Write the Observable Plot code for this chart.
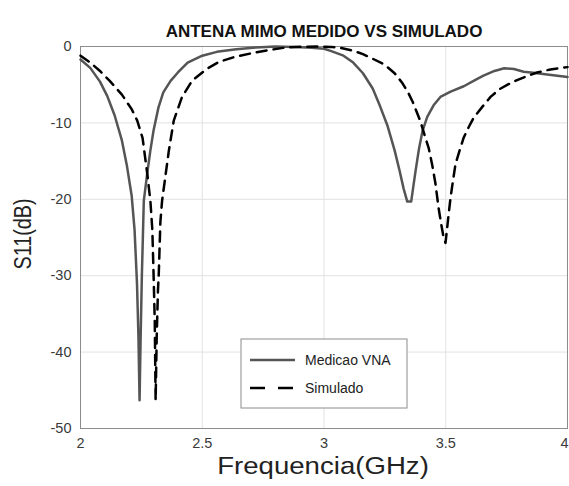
<!DOCTYPE html>
<html><head><meta charset="utf-8">
<script src="https://cdn.jsdelivr.net/npm/d3@7"></script>
<script src="https://cdn.jsdelivr.net/npm/@observablehq/plot@0.6"></script>
<style>body{margin:0;background:#fff} svg{display:block}</style>
</head><body><div id="chart"></div>
<script>
const title = "ANTENA MIMO MEDIDO VS SIMULADO";
const xLabel = "Frequencia(GHz)";
const yLabel = "S11(dB)";
const seriesNames = ["Medicao VNA", "Simulado"];
const xTicks = [2, 2.5, 3, 3.5, 4];
const yTicks = [0, -10, -20, -30, -40, -50];

const freqMedido = [2.00, 2.04, 2.08, 2.11, 2.14, 2.17, 2.19, 2.21, 2.222, 2.232, 2.238, 2.2425, 2.247, 2.252, 2.26, 2.274, 2.287, 2.30, 2.32, 2.34, 2.37, 2.40, 2.44, 2.50, 2.56, 2.64, 2.72, 2.80, 2.88, 2.95, 3.00, 3.03, 3.08, 3.12, 3.16, 3.20, 3.23, 3.26, 3.29, 3.31, 3.327, 3.342, 3.358, 3.375, 3.39, 3.405, 3.424, 3.45, 3.478, 3.52, 3.574, 3.62, 3.655, 3.70, 3.74, 3.78, 3.82, 3.86, 3.90, 3.95, 4.00];
const s11Medido = [-1.7, -2.8, -4.6, -6.5, -9.0, -12.3, -15.5, -19.5, -24, -31, -38, -46.3, -38, -30, -20.2, -16.6, -13.6, -11, -8, -6, -4.5, -3.4, -2.1, -1.2, -0.7, -0.35, -0.12, 0, -0.05, -0.15, -0.3, -0.6, -1.2, -2.1, -3.5, -5.5, -7.8, -10.3, -13.6, -16.2, -18.6, -20.3, -20.3, -16.5, -13.4, -11, -9.2, -7.7, -6.6, -5.9, -5.2, -4.4, -3.8, -3.2, -2.85, -2.95, -3.3, -3.45, -3.6, -3.8, -4.0];

const freqSimulado = [2.00, 2.04, 2.08, 2.12, 2.17, 2.21, 2.233, 2.255, 2.274, 2.287, 2.295, 2.30, 2.305, 2.3085, 2.313, 2.318, 2.3215, 2.328, 2.335, 2.363, 2.383, 2.417, 2.459, 2.52, 2.57, 2.63, 2.70, 2.767, 2.85, 2.92, 2.98, 3.03, 3.07, 3.12, 3.16, 3.20, 3.25, 3.29, 3.32, 3.345, 3.365, 3.38, 3.396, 3.415, 3.43, 3.445, 3.458, 3.47, 3.48, 3.49, 3.499, 3.51, 3.52, 3.53, 3.54, 3.557, 3.574, 3.595, 3.615, 3.65, 3.684, 3.72, 3.76, 3.793, 3.84, 3.875, 3.93, 4.00];
const s11Simulado = [-1.2, -2.1, -3.2, -4.5, -6.3, -8.2, -9.7, -12, -16.6, -20.2, -24, -29.7, -36, -46.3, -38, -32, -29.7, -23, -20.2, -13.6, -9.7, -6.6, -4.45, -2.9, -2.0, -1.4, -0.9, -0.5, -0.1, -0.03, 0, -0.05, -0.2, -0.55, -1.0, -1.6, -2.4, -3.5, -4.7, -6.0, -7.3, -8.5, -9.8, -11.8, -13.3, -15.6, -18, -21, -23, -24.8, -25.7, -22.5, -19.7, -17.5, -15.4, -13.6, -11.9, -10.5, -9.3, -7.9, -6.6, -5.6, -4.9, -4.4, -3.8, -3.4, -3.0, -2.7];

const medido = freqMedido.map((f, i) => ({f, db: s11Medido[i]}));
const simulado = freqSimulado.map((f, i) => ({f, db: s11Simulado[i]}));

const font = "'Liberation Sans', Arial, Helvetica, sans-serif";

const chart = Plot.plot({
  width: 569, height: 486,
  marginLeft: 80, marginRight: 2, marginTop: 46, marginBottom: 58,
  style: {fontFamily: font, background: "#fff"},
  x: {domain: [2, 4]},
  y: {domain: [-50, 0]},
  marks: [
    Plot.gridX(xTicks, {stroke: "#e2e2e2", strokeOpacity: 1}),
    Plot.gridY(yTicks, {stroke: "#e2e2e2", strokeOpacity: 1}),
    Plot.frame({stroke: "#8c8c8c"}),
    Plot.axisX(xTicks.slice(0, -1), {tickSize: 0, tickPadding: 9, fontSize: 14.5, fill: "#3a3a3a", tickFormat: d => String(d), label: null}),
    Plot.axisX(xTicks.slice(-1), {tickSize: 0, tickPadding: 9, fontSize: 14.5, fill: "#3a3a3a", tickFormat: d => String(d), label: null, dx: -3}),
    Plot.axisY(yTicks, {tickSize: 0, tickPadding: 9, fontSize: 14.5, fill: "#3a3a3a", tickFormat: d => String(d), label: null}),
    Plot.line(medido, {x: "f", y: "db", stroke: "#555", strokeWidth: 2.5}),
    Plot.line(simulado, {x: "f", y: "db", stroke: "#000", strokeWidth: 2.5, strokeDasharray: "10,7"}),
    Plot.text([title], {text: d => d, frameAnchor: "top", dy: -21.5, fontWeight: "bold", fontSize: 17, fill: "#111"})
  ]
});

const svg = d3.select(chart);

// axis titles (stretched horizontally like the reference)
svg.append("text").attr("font-family", font).attr("font-size", 24).attr("fill", "#222")
  .attr("text-anchor", "middle").attr("dominant-baseline", "middle")
  .attr("transform", "translate(323,468) scale(1.15,1)").text(xLabel);
svg.append("text").attr("font-family", font).attr("font-size", 22).attr("fill", "#222")
  .attr("text-anchor", "middle").attr("dominant-baseline", "middle")
  .attr("transform", "translate(25,234) rotate(-90) scale(0.9,1.1)").text(yLabel);

// legend box
const lg = svg.append("g").attr("font-family", font);
lg.append("rect").attr("x", 241).attr("y", 339).attr("width", 166).attr("height", 69)
  .attr("fill", "#fff").attr("stroke", "#8c8c8c").attr("stroke-width", 1);
const styles = [{stroke: "#555", dash: null}, {stroke: "#000", dash: "15,13"}];
seriesNames.forEach((name, i) => {
  const y = 360 + i * 28;
  const ln = lg.append("line").attr("x1", 250).attr("x2", 295).attr("y1", y).attr("y2", y)
    .attr("stroke", styles[i].stroke).attr("stroke-width", 2.5);
  if (styles[i].dash) ln.attr("stroke-dasharray", styles[i].dash);
  lg.append("text").attr("x", 305).attr("y", y).attr("dy", "0.35em")
    .attr("text-anchor", "start").attr("font-size", 14).attr("fill", "#222").text(name);
});

document.getElementById("chart").appendChild(chart);
</script>
</body></html>
